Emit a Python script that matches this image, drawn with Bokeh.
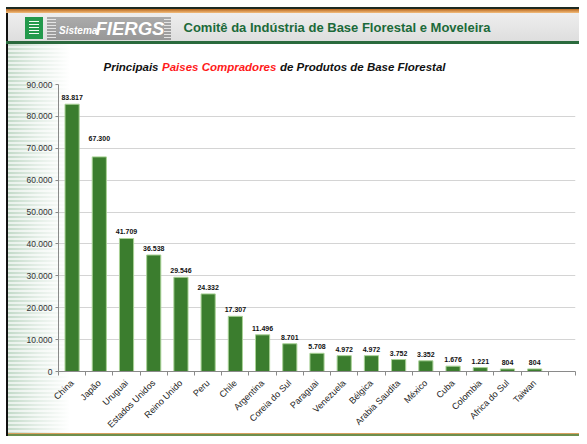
import math
from bokeh.plotting import figure
from bokeh.layouts import column
from bokeh.models import Range1d, FixedTicker
from bokeh.core.properties import value
from bokeh.embed import file_html
from bokeh.resources import INLINE

# ---------------- data ----------------
countries = ["China", "Japão", "Uruguai", "Estados Unidos", "Reino Unido", "Peru",
             "Chile", "Argentina", "Coreia do Sul", "Paraguai", "Venezuela", "Bélgica",
             "Arabia Saudita", "México", "Cuba", "Colombia", "Africa do Sul", "Taiwan"]
values = [83817, 67300, 41709, 36538, 29546, 24332, 17307, 11496, 8701, 5708,
          4972, 4972, 3752, 3352, 1676, 1221, 804, 804]
y_ticks = [0, 10000, 20000, 30000, 40000, 50000, 60000, 70000, 80000, 90000]

header_title = "Comitê da Indústria de Base Florestal e Moveleira"
chart_title_parts = ["Principais", "Paises Compradores", "de Produtos de Base Florestal"]
chart_title_colors = ["#111111", "#ff1a1a", "#111111"]

def fmt(v):
    return f"{v:,}".replace(",", ".")

FONT = "Liberation Sans"
W, H = 579, 436
HH = 76                     # height of the header strip figure
H2 = H - HH                 # height of the chart figure
FL, FR = 58, 575            # horizontal frame edges (shared by both figures)

solid = lambda c: f"linear-gradient({c},{c})"
def layer(img, x, y, w, h):
    return f"{img} {x}px {y}px / {w}px {h}px no-repeat"

STRIPES = "repeating-linear-gradient(to bottom, #c3dac9 0 2px, #e9f1eb 2px 4px)"
FADE = "linear-gradient(to right, rgba(255,255,255,0) 0px, rgba(255,255,255,0.55) 30px, #ffffff 62px)"

# ================= header figure (pixel ranges: data x/y == canvas px) =================
hdr = figure(width=W, height=HH, output_backend="svg", toolbar_location=None,
             x_range=Range1d(FL, FR), y_range=Range1d(HH, 0),
             x_axis_location=None, y_axis_location=None,
             min_border_left=FL, min_border_right=W - FR,
             min_border_top=0, min_border_bottom=0,
             background_fill_color=None, border_fill_color=None)
hdr.outline_line_color = None
hdr.grid.visible = False

hdr_layers = [
    layer(solid("#1d2a22"), 6, 7, W - 6, 2),
    layer("linear-gradient(#b8681e,#f3bd7c)", 6, 9, W - 6, 4),
    layer("repeating-linear-gradient(to bottom, rgba(255,255,255,0.95) 0 1px, transparent 1px 3px)", 29, 21, 10, 14),
    layer(solid("#23994c"), 25, 17, 18, 22),
    layer("repeating-linear-gradient(to bottom, rgba(235,235,235,0.9) 0 1px, transparent 1px 3px)", 47, 19, 9, 20),
    layer("repeating-linear-gradient(to bottom, rgba(235,235,235,0.9) 0 1px, transparent 1px 3px)", 164, 19, 7, 20),
    layer("linear-gradient(#ababab,#979797)", 47, 17, 124, 23),
    layer("linear-gradient(#eeeeee,#dedede)", 8, 13, W - 8, 28),
    layer(solid("#2a6a3d"), 6, 41, W - 6, 3),
    layer(solid("#111111"), 6, 7, 2, HH - 7),
    layer(FADE, 8, 44, 62, HH - 44),
    layer(STRIPES, 8, 44, 62, HH - 44),
]
hdr.styles = {"background": ", ".join(hdr_layers) + ", #ffffff"}

def htext(x, y, text, size, color, style="bold"):
    hdr.text(x=[x], y=[y], text=[text], text_font=value(FONT), text_font_size=size,
             text_color=color, text_font_style=style, text_align="left",
             text_baseline="middle")

htext(58.5, 29.5, "Sistema", "10px", "white", style="bold italic")
htext(95, 28, "FIERGS", "18.5px", "white", style="bold italic")
htext(183, 27, header_title, "13px", "#1c6a3a")

# multi-coloured chart title: consecutive pieces (11.5px bold italic)
title_x = [103, 161.5, 279.5]
for tx, part, col in zip(title_x, chart_title_parts, chart_title_colors):
    htext(tx, 66, part, "11.5px", col, style="bold italic")

# ================= chart figure =================
FT, FB = 84 - HH, 372 - HH   # vertical frame edges inside the chart figure
n = len(countries)
xs = list(range(n))

p = figure(width=W, height=H2, output_backend="svg", toolbar_location=None,
           x_range=Range1d(-0.5, n + 0.5), y_range=Range1d(0, y_ticks[-1]),
           min_border_left=FL, min_border_right=W - FR, min_border_top=FT,
           min_border_bottom=H2 - FB,
           background_fill_color=None, border_fill_color=None)
p.outline_line_color = None

p_layers = [
    layer(solid("#111111"), 6, 0, 2, H2),
    layer("linear-gradient(#d8a060,#d8a060 50%,#6e8f4e 50%)", 6, H2 - 3, W - 6, 3),
    layer(FADE, 8, 0, 62, H2 - 3),
    layer(STRIPES, 8, 0, 62, H2 - 3),
]
p.styles = {"background": ", ".join(p_layers) + ", #ffffff"}

# ----- bars -----
p.vbar(x=xs, top=values, width=0.52, fill_color="#3b7d2e", line_color="#a9d296", line_width=1)

extra_lift = {"Japão": 12}
offsets = [-4 - extra_lift.get(c, 0) for c in countries]
p.text(x=xs, y=values, text=[fmt(v) for v in values], y_offset=offsets,
       text_align="center", text_baseline="bottom", text_font=value(FONT),
       text_font_size="7px", text_font_style="bold", text_color="#111111")

# ----- axes -----
p.xgrid.visible = False
p.ygrid.ticker = FixedTicker(ticks=y_ticks)
p.ygrid.grid_line_color = "#d4d4d4"
p.ygrid.grid_line_width = 1

p.yaxis.ticker = FixedTicker(ticks=y_ticks)
p.yaxis.major_label_overrides = {t: fmt(t) for t in y_ticks}
p.yaxis.axis_line_color = "#8a8a8a"
p.yaxis.major_tick_line_color = "#8a8a8a"
p.yaxis.major_tick_out = 3
p.yaxis.major_tick_in = 0
p.yaxis.minor_tick_line_color = None
p.yaxis.major_label_standoff = 3
p.yaxis.major_label_text_font = FONT
p.yaxis.major_label_text_font_size = "8.5px"
p.yaxis.major_label_text_color = "#333333"

p.xaxis.ticker = FixedTicker(ticks=xs, minor_ticks=[i - 0.5 for i in range(n + 2)])
p.xaxis.major_label_overrides = {i: c for i, c in enumerate(countries)}
p.xaxis.major_label_orientation = math.pi / 4
p.xaxis.axis_line_color = "#8a8a8a"
p.xaxis.major_tick_line_color = None
p.xaxis.minor_tick_line_color = "#8a8a8a"
p.xaxis.minor_tick_out = 4
p.xaxis.minor_tick_in = 0
p.xaxis.major_label_standoff = 4
p.xaxis.major_label_text_font = FONT
p.xaxis.major_label_text_font_size = "9px"
p.xaxis.major_label_text_color = "#222222"

layout = column(hdr, p, spacing=0)
open("out.html", "w").write(file_html(layout, INLINE))
